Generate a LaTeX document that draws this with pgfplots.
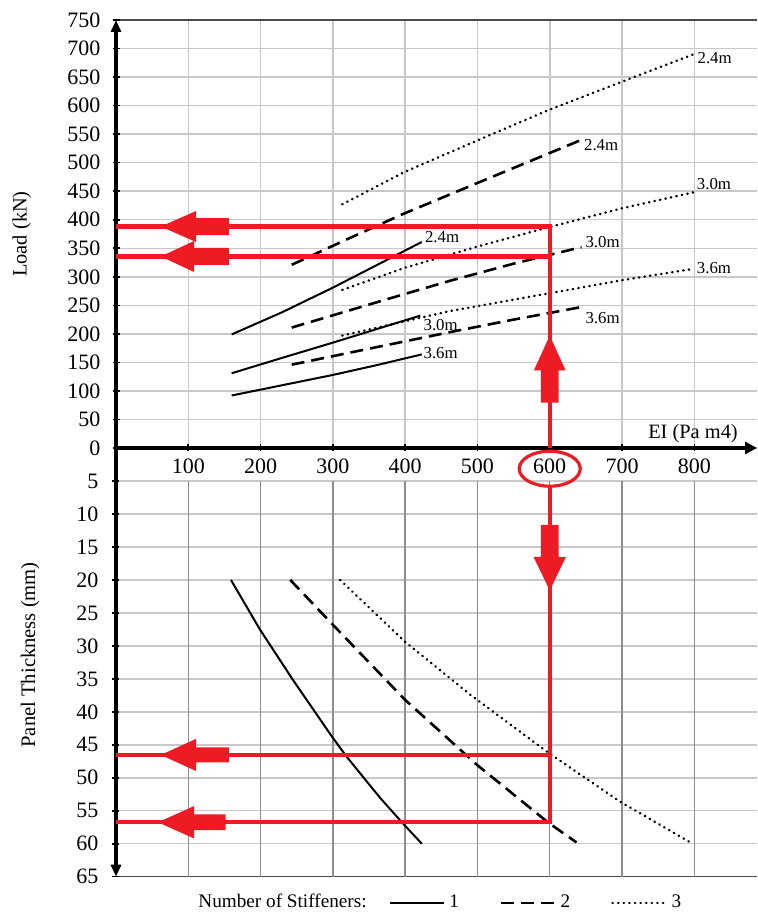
\documentclass[border=0pt]{standalone}
\usepackage{fontspec}
\setmainfont{Liberation Serif}
\usepackage{pgfplots}
\pgfplotsset{compat=1.18}
\usetikzlibrary{arrows.meta}
\definecolor{anno}{HTML}{ED1C24}
\definecolor{gridlight}{HTML}{C8C8C8}
\definecolor{griddark}{HTML}{8E8E8E}
\begin{document}
\begin{tikzpicture}
\pgfplotsset{
  common/.style={
    scale only axis, width=320.5pt, xmin=0, xmax=886.7,
    axis line style={line width=2pt, black},
    major tick style={black, line width=0.8pt},
    major tick length=3.5pt,
    tick align=outside,
    tick label style={font=\fontsize{11}{13}\selectfont},
    /pgf/number format/assume math mode=true,
    clip mode=individual,
  },
  s1/.style={black, line width=1pt},
  s2/.style={black, line width=1.3pt, dash pattern=on 6.5pt off 3.5pt},
  s3/.style={black, line width=1.25pt, line cap=round, dash pattern=on 0.2pt off 2.6pt},
  rl/.style={anno, line width=2.2pt, forget plot},
  ra/.style={fill=anno, draw=none, forget plot},
}
% ---------------- top panel: load ----------------
\begin{axis}[common, at={(0,0)}, anchor=south west, height=214pt,
  ymin=0, ymax=750,
  axis x line=bottom, axis y line=left,
  x axis line style={-{Triangle[width=6pt,length=6pt]}},
  y axis line style={-{Triangle[width=5pt,length=6pt]}},
  xtick={100,200,...,800}, ytick={0,50,...,700},
  extra y ticks={750}, extra y tick style={grid style={black!70, line width=0.8pt}},
  xmajorgrids, ymajorgrids, grid style={gridlight, line width=0.75pt},
  yticklabel style={xshift=-2.5pt},
  xlabel={EI (Pa m4)},
  xlabel style={at={(axis description cs:0.981,0.0215)}, anchor=base east, font=\fontsize{10.2}{12}\selectfont},
  ylabel={Load (kN)},
  ylabel style={at={(axis description cs:-0.147,0.5)}, anchor=center, font=\fontsize{10.2}{12}\selectfont},
]
% 1 stiffener
\addplot[s1] coordinates {(160,199) (230,238) (300,281) (360,320) (423,361)};
\addplot[s1] coordinates {(160,131) (230,158) (301,185) (421,232)};
\addplot[s1] coordinates {(160,92) (230,110) (300,128) (360,145) (423,164)};
% 2 stiffeners
\addplot[s2] coordinates {(243,321) (320,366) (397,410) (503,466) (642,539)};
\addplot[s2] coordinates {(243,211) (365,257) (462,293) (550,323) (644,352)};
\addplot[s2] coordinates {(243,146) (350,174) (462,203) (550,225) (644,247)};
% 3 stiffeners
\addplot[s3] coordinates {(313,427) (398,483) (500,539) (598,592) (700,642) (801,691)};
\addplot[s3] coordinates {(313,277) (400,316) (500,353) (599,387) (700,420) (799,448)};
\addplot[s3] coordinates {(313,197) (462,240) (599,271) (700,294) (799,314)};
% curve labels
\begin{scope}[every node/.style={anchor=west, inner sep=0pt, font=\fontsize{8.4}{10}\selectfont}]
\node at (axis cs:427,369) {2.4m};
\node at (axis cs:425,216) {3.0m};
\node at (axis cs:425,167) {3.6m};
\node at (axis cs:647,531) {2.4m};
\node at (axis cs:649,361) {3.0m};
\node at (axis cs:649,228) {3.6m};
\node at (axis cs:804,683) {2.4m};
\node at (axis cs:803,463) {3.0m};
\node at (axis cs:803,315) {3.6m};
\end{scope}
% red reading lines
\addplot[rl] coordinates {(0,388.1) (600,388.1) (600,0)};
\addplot[rl] coordinates {(0,335.6) (600,335.6)};
\addplot[ra] coordinates {(62,388.1) (110.7,415.3) (110.7,403) (156.3,403) (156.3,373.2) (110.7,373.2) (110.7,360.9)} -- cycle;
\addplot[ra] coordinates {(62,335.6) (108,362.8) (108,350.5) (156.3,350.5) (156.3,320.7) (108,320.7) (108,308.4)} -- cycle;
\addplot[ra] coordinates {(600,197.1) (622,135.8) (612.4,135.8) (612.4,79.7) (587.6,79.7) (587.6,135.8) (578,135.8)} -- cycle;
\end{axis}
% ---------------- bottom panel: thickness ----------------
\begin{axis}[common, at={(0,0)}, anchor=north west, height=214.35pt,
  ymin=0, ymax=65, y dir=reverse,
  axis x line=none, axis y line=left,
  y axis line style={-{Triangle[width=5pt,length=6pt]}},
  xtick=\empty,
  ytick={5,10,...,60},
  extra y ticks={65}, extra y tick style={grid style={black!70, line width=0.8pt}},
  ymajorgrids, grid style={gridlight, line width=0.75pt},
  yticklabel style={xshift=-3.5pt},
  ylabel={Panel Thickness (mm)},
  ylabel style={at={(axis description cs:-0.134,0.5175)}, anchor=center, font=\fontsize{10.3}{12}\selectfont},
  legend columns=-1,
  legend image code/.code={\draw[#1] (0pt,0pt) -- (27pt,0pt);},
  legend style={at={(axis description cs:0.4259,-0.0614)}, anchor=west, draw=none, fill=none,
    inner sep=0pt, font=\fontsize{9.6}{11}\selectfont,
    nodes={inner sep=1pt},
    /tikz/column sep=1pt,
    /tikz/every even column/.append style={column sep=19.5pt}},
]
\pgfplotsinvokeforeach{100,200,300,400,500,600,700,800}{
  \draw[griddark, line width=0.75pt] (axis cs:#1,5) -- (axis cs:#1,65);
}
\addplot[s1] coordinates {(159,20) (199,27.5) (245,35.2) (299,43.8) (319,46.8) (365,53) (395,56.7) (423,60)};
\addlegendentry{1}
\addplot[s2] coordinates {(241,20) (300,26.8) (400,38.2) (500,48.1) (598,56.8) (637,59.8)};
\addlegendentry{2}
\addplot[s3] coordinates {(310,20) (399,29.3) (490,37.4) (598,46.2) (697,53.6) (796,59.9)};
\addlegendentry{3}
% red reading lines
\addplot[rl] coordinates {(0,46.54) (600,46.54)};
\addplot[rl] coordinates {(0,56.75) (600,56.75) (600,5.8)};
\addplot[ra] coordinates {(62,46.54) (110.7,44.1) (110.7,45.4) (156.3,45.4) (156.3,47.68) (110.7,47.68) (110.7,48.98)} -- cycle;
\addplot[ra] coordinates {(58,56.75) (107.9,54.3) (107.9,55.55) (151.7,55.55) (151.7,57.95) (107.9,57.95) (107.9,59.2)} -- cycle;
\addplot[ra] coordinates {(600,21.6) (622.5,16.5) (612.4,16.5) (612.4,11.64) (587.6,11.64) (587.6,16.5) (577.5,16.5)} -- cycle;
\draw[anno, line width=1.6pt] (axis cs:600,3.14) ellipse [x radius=15.25pt, y radius=8.75pt];
\node[anchor=base west, inner sep=0pt, font=\fontsize{9.6}{11}\selectfont] at (axis description cs:0.128,-0.073) {Number of Stiffeners:};
\end{axis}
\pgfresetboundingbox
\useasboundingbox (-58pt,-232.5pt) rectangle (320.5pt,224pt);
\end{tikzpicture}
\end{document}
